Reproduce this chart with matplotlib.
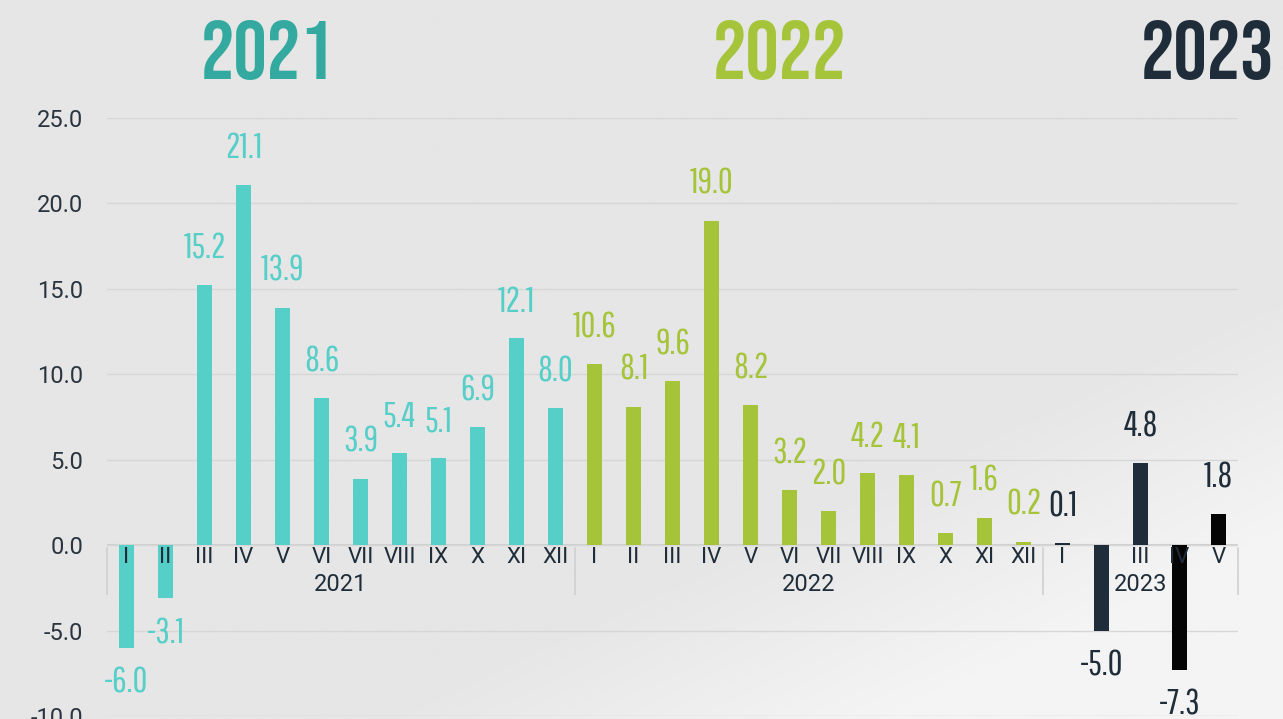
import matplotlib
matplotlib.use("Agg")
import matplotlib.pyplot as plt
import numpy as np
from matplotlib import font_manager

months_2021 = ["I", "II", "III", "IV", "V", "VI", "VII", "VIII", "IX", "X", "XI", "XII"]
values_2021 = [-6.0, -3.1, 15.2, 21.1, 13.9, 8.6, 3.9, 5.4, 5.1, 6.9, 12.1, 8.0]
months_2022 = ["I", "II", "III", "IV", "V", "VI", "VII", "VIII", "IX", "X", "XI", "XII"]
values_2022 = [10.6, 8.1, 9.6, 19.0, 8.2, 3.2, 2.0, 4.2, 4.1, 0.7, 1.6, 0.2]
months_2023 = ["I", "II", "III", "IV", "V"]
values_2023 = [0.1, -5.0, 4.8, -7.3, 1.8]
years = ["2021", "2022", "2023"]
yticks = [-10, -5, 0, 5, 10, 15, 20, 25]

names = {f.name for f in font_manager.fontManager.ttflist}


def pick(prefs):
    fams = [p for p in prefs if p in names]
    return fams + ["DejaVu Sans"]


title_font = pick(["Bebas Neue", "Oswald", "Archivo Narrow", "Liberation Sans Narrow"])
label_font = pick(["Pathway Gothic One", "Bebas Neue", "Oswald", "Archivo Narrow"])
axis_font = pick(["Roboto", "Noto Sans"])

c21 = "#55CFC8"
c21t = "#33A99F"
c22 = "#A5C43A"
c23 = "#1F2D3A"
cblack = "#050505"
bg = "#E6E6E6"

fig = plt.figure(figsize=(12.83, 7.19), dpi=100, facecolor=bg)
grad = np.linspace(0, 1, 256)
X, Y = np.meshgrid(grad, grad)
G = np.clip((X - 0.62) * 2.5 + (Y - 0.72) * 3.0, 0, 1)
bgax = fig.add_axes([0, 0, 1, 1], zorder=-10)
bgax.imshow(G, cmap=matplotlib.colors.LinearSegmentedColormap.from_list("g", [bg, "#F4F4F4"]),
            extent=[0, 1, 0, 1], origin="upper", aspect="auto")
bgax.axis("off")

ax = fig.add_axes([107/1283, 3/719, 1131/1283, 598/719])
ax.set_facecolor("none")

all_vals = values_2021 + values_2022 + values_2023
all_months = months_2021 + months_2022 + months_2023
colors = [c21]*12 + [c22]*12 + [c23, c23, c23, cblack, cblack]
lab_colors = [c21]*12 + [c22]*12 + [c23]*5
x = np.arange(len(all_vals))
ax.bar(x, all_vals, width=0.41, color=colors, zorder=3)

ax.set_xlim(-0.5, len(all_vals) - 0.5)
ax.set_ylim(-10, 25)
ax.set_yticks(yticks)
ax.set_yticklabels([f"{v:.1f}" for v in yticks], fontsize=17, color="#2B3540",
                   family=axis_font)
ax.tick_params(axis="y", length=0, pad=17)
ax.tick_params(axis="x", length=0)
ax.set_xticks([])
ax.grid(axis="y", color="#D6D6D6", linewidth=1, zorder=0)
for s in ax.spines.values():
    s.set_visible(False)
ax.axhline(0, color="#D0D0D0", linewidth=1.5, zorder=1)

for xi, m in zip(x, all_months):
    ax.annotate(m, (xi, 0), xytext=(0, -1), textcoords="offset points",
                ha="center", va="top", fontsize=16, color=c23, zorder=4,
                family=axis_font)
groups = [(0, 12, years[0]), (12, 24, years[1]), (24, 29, years[2])]
for a, b, lab in groups:
    ax.annotate(lab, ((a + b - 1) / 2, 0), xytext=(0, -28), textcoords="offset points",
                ha="center", va="center", fontsize=17, color=c23, zorder=4,
                family=axis_font)
for sep in [-0.5, 11.5, 23.5, 28.5]:
    ax.annotate("", (sep, 0), xytext=(sep, -3.05), textcoords="data",
                arrowprops=dict(arrowstyle="-", color="#D0D0D0", lw=1.2))

for xi, v, c in zip(x, all_vals, lab_colors):
    if v >= 0:
        ax.annotate(f"{v:.1f}", (xi, v), xytext=(0, 15), textcoords="offset points",
                    ha="center", va="bottom", fontsize=26, color=c, family=label_font)
    else:
        ax.annotate(f"{v:.1f}", (xi, v), xytext=(0, -13), textcoords="offset points",
                    ha="center", va="top", fontsize=26, color=c, family=label_font)

title_cols = [c21t, c22, c23]
title_x = [267, 779, 1207]
for lab, tx, tc in zip(years, title_x, title_cols):
    fig.text(tx/1283, 1 - 50/719, lab, ha="center", va="center",
             fontsize=60, fontweight="bold", color=tc, family=title_font)

fig.savefig("out.png", dpi=100, facecolor=bg)
